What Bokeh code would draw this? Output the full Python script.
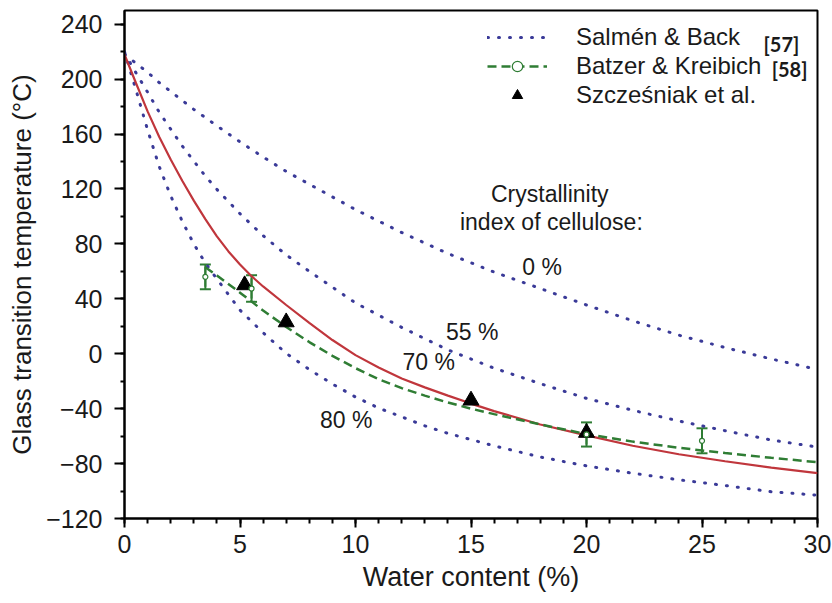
from bokeh.plotting import figure
from bokeh.models import (ColumnDataSource, Whisker, TeeHead, Legend, LegendItem,
                          SingleIntervalTicker, Range1d)
from bokeh.core.properties import value
from bokeh.embed import file_html
from bokeh.resources import INLINE

# ---------------- data ----------------
# Salmén & Back model curves (crystallinity index 0 %, 55 %, 80 %)
x_ci0 = [0, 0.5, 1, 1.5, 2, 2.5, 3, 3.5, 4, 5, 6, 7, 8, 10, 12, 14, 16, 18, 20, 22, 24, 26, 28, 30]
y_ci0 = [218, 211.5, 205, 197.5, 191, 184.5, 178, 172, 166, 154.3, 143.3, 132.8, 123.5, 105, 88.3,
         73, 59.5, 47.5, 35.5, 24, 13.5, 4.5, -3.8, -11.5]
x_ci55 = [0, 0.5, 1, 1.5, 2, 2.5, 3, 3.5, 4, 5, 6, 7, 8, 10, 12, 14, 16, 18, 20, 22, 24, 26, 28, 30]
y_ci55 = [219, 204.5, 190.5, 176, 163.6, 151.3, 140.3, 129.4, 119.7, 102, 86, 72, 60, 37, 19.2,
          2.8, -10.5, -21.8, -32.5, -41.2, -49, -56.1, -62.8, -68]
x_ci80 = [0, 0.5, 1, 1.5, 2, 2.5, 3, 3.5, 4, 5, 6, 7, 8, 9, 10, 11, 12, 13, 14, 16, 18, 20, 22, 24,
          26, 28, 30]
y_ci80 = [220, 192, 163, 136.5, 115, 96.5, 80, 66, 54.5, 31.8, 15.3, 0.3, -11.5, -22, -31.5, -39.5,
          -46, -52.5, -58, -67.1, -75.2, -81.7, -87, -91.8, -96, -100.5, -103]
# 70 % crystallinity curve (solid red)
x_ci70 = [0, 0.5, 1, 1.5, 2, 2.5, 3, 3.5, 4, 4.5, 5, 5.5, 6, 7, 8, 9, 10, 11, 12, 13, 14, 15, 16, 18,
          20, 22, 24, 26, 28, 30]
y_ci70 = [218, 197, 176.5, 158, 141.5, 126, 111.5, 98, 85.5, 74.5, 65, 56.5, 49, 35.5, 22.5, 10,
          -1, -10, -18, -24.5, -30.5, -36.3, -41.8, -51.5, -59.5, -67, -73.2, -78.3, -83, -87]
# Batzer & Kreibich fit (dashed) and measured points with error bars
x_bk_fit = [3.5, 4, 5, 6, 7, 8, 9, 10, 11, 12, 13, 14, 15, 16, 18, 20, 22, 24, 26, 28, 30]
y_bk_fit = [63, 57, 44.5, 31.5, 19.5, 8.5, -1.5, -10.5, -18.5, -25, -30.5, -35.5, -40, -44, -51.5,
            -58.5, -64, -68.5, -72.3, -75.8, -79]
x_bk = [3.5, 5.5, 20, 25]
y_bk = [56, 47.5, -58.8, -63.4]
err_bk = [9, 9.7, 8.8, 9.1]
# Szcześniak et al. points
x_sz = [5.2, 7.0, 15.0, 20.0]
y_sz = [50, 23, -34, -57.5]
# annotations
ann_text = ["Crystallinity", "index of cellulose:", "0 %", "55 %", "70 %", "80 %"]
ann_x = [18.41, 18.48, 18.08, 15.05, 13.17, 9.6]
ann_y = [116.6, 96, 63.3, 16, -5.8, -48.2]
# reference numbers next to the legend
ref_text = ["[57]", "[58]"]
ref_x = [28.44, 28.79]
ref_y = [225.5, 207.5]

x_ticks_interval = 5
y_ticks_interval = 40

# ---------------- styling ----------------
FONT = "Liberation Sans"
DOT = "#3a3a98"
RED = "#c0363c"
GREEN = "#2f7d34"

p = figure(width=832, height=603, output_backend="svg", toolbar_location=None,
           x_range=Range1d(0, 30), y_range=Range1d(-120, 250),
           min_border_left=124, min_border_right=15, min_border_top=10, min_border_bottom=85)
p.xgrid.visible = False
p.ygrid.visible = False
p.outline_line_color = "black"
p.outline_line_width = 2
p.background_fill_color = "white"
p.border_fill_color = "white"

p.xaxis.ticker = SingleIntervalTicker(interval=x_ticks_interval, num_minor_ticks=5)
p.yaxis.ticker = SingleIntervalTicker(interval=y_ticks_interval, num_minor_ticks=2)
for ax in (p.xaxis, p.yaxis):
    ax.axis_line_width = 2
    ax.axis_line_color = "black"
    ax.major_tick_line_width = 2
    ax.minor_tick_line_width = 2
    ax.major_label_text_font = FONT
    ax.major_label_text_font_size = "25px"
    ax.major_label_text_color = "#1a1a1a"
    ax.axis_label_text_font = FONT
    ax.axis_label_text_font_style = "normal"
    ax.axis_label_text_color = "#1a1a1a"
p.xaxis.major_tick_in = 0
p.xaxis.major_tick_out = 9
p.xaxis.minor_tick_in = 0
p.xaxis.minor_tick_out = 5
p.xaxis.major_label_standoff = 7
p.xaxis.axis_label = "Water content (%)"
p.xaxis.axis_label_text_font_size = "27px"
p.xaxis.axis_label_standoff = 6
p.yaxis.major_tick_in = 0
p.yaxis.major_tick_out = 10
p.yaxis.minor_tick_in = 0
p.yaxis.minor_tick_out = 4
p.yaxis.major_label_standoff = 12
p.yaxis.axis_label = "Glass transition temperature (°C)"
p.yaxis.axis_label_text_font_size = "26px"
p.yaxis.axis_label_standoff = 6

# ---------------- curves ----------------
dot_kw = dict(line_color=DOT, line_width=3, line_dash="1 10", line_cap="round")
r0 = p.line(x_ci0, y_ci0, **dot_kw)
p.line(x_ci55, y_ci55, **dot_kw)
p.line(x_ci80, y_ci80, **dot_kw)
p.line(x_ci70, y_ci70, line_color=RED, line_width=2.2)
rg = p.line(x_bk_fit, y_bk_fit, line_color=GREEN, line_width=2.5, line_dash="9 5")

# Batzer & Kreibich error bars
bk_src = ColumnDataSource(dict(x=x_bk, y=y_bk,
                               upper=[v + e for v, e in zip(y_bk, err_bk)],
                               lower=[v - e for v, e in zip(y_bk, err_bk)]))
wh = Whisker(source=bk_src, base="x", upper="upper", lower="lower",
             line_color=GREEN, line_width=2,
             upper_head=TeeHead(size=11, line_color=GREEN, line_width=2),
             lower_head=TeeHead(size=11, line_color=GREEN, line_width=2))
p.add_layout(wh)
rbar = p.scatter("x", "y", source=bk_src, marker="dash", angle=1.5708, size=20,
                 line_color=GREEN, line_width=2)

# Szcześniak points
rt = p.scatter(x_sz, y_sz, marker="triangle", size=16, fill_color="black", line_color="black")
rc = p.scatter("x", "y", source=bk_src, marker="circle", size=5, fill_color="white",
               line_color=GREEN, line_width=1.2)

# annotations
p.text(x=ann_x, y=ann_y, text=ann_text, text_font=value(FONT), text_font_size="23px",
       text_align="center", text_baseline="alphabetic", text_color="#1a1a1a")
p.text(x=ref_x, y=ref_y, text=ref_text, text_font=value("Lato"), text_font_style="bold",
       text_font_size="20px", text_align="center", text_baseline="alphabetic",
       text_color="#1a1a1a")

legend = Legend(items=[
    LegendItem(label="Salmén & Back", renderers=[r0]),
    LegendItem(label="Batzer & Kreibich", renderers=[rg, rbar, rc]),
    LegendItem(label="Szcześniak et al.", renderers=[rt]),
], location=(363, 409))
legend.label_text_font = FONT
legend.label_text_font_size = "24px"
legend.label_text_color = "#1a1a1a"
legend.glyph_width = 60
legend.glyph_height = 26
legend.label_height = 26
legend.spacing = 1
legend.padding = 5
legend.margin = 0
legend.label_standoff = 29
legend.border_line_color = None
legend.background_fill_alpha = 0
p.add_layout(legend)

open("out.html", "w").write(file_html(p, INLINE))
